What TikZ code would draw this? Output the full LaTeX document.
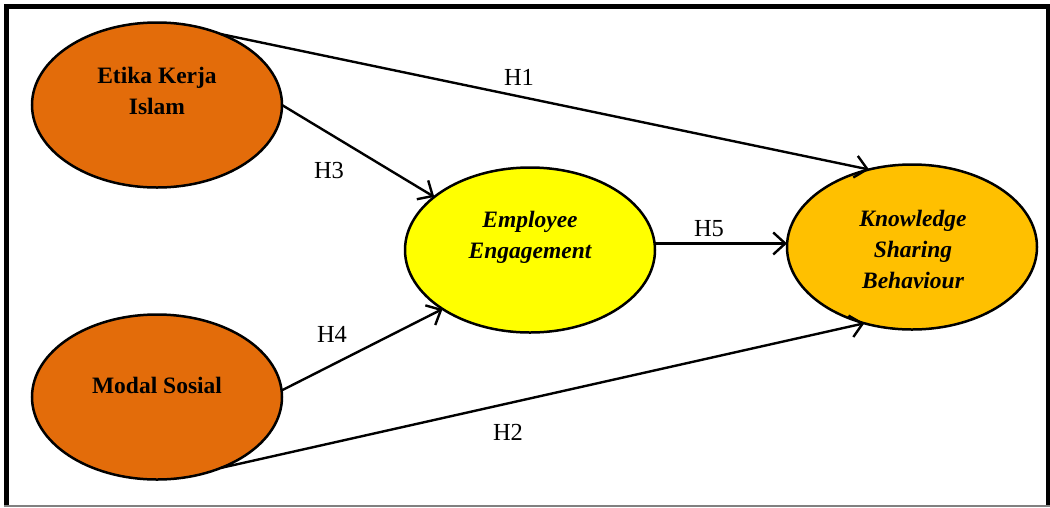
\documentclass[tikz,border=0pt]{standalone}
\usepackage{fontspec}
\setmainfont{Liberation Serif}
\usetikzlibrary{arrows.meta,shapes.geometric}
\definecolor{ekorange}{HTML}{E36C0A}
\definecolor{eeyellow}{HTML}{FFFF00}
\definecolor{ksbgold}{HTML}{FFC000}
\definecolor{framegray}{HTML}{808080}
\tikzset{
  construct/.style={ellipse, draw=black, line width=2.5pt, minimum width=250pt, minimum height=165pt, inner sep=0pt, outer sep=0pt},
  nodetext/.style={align=center, font=\fontsize{23.5}{31}\selectfont\bfseries, inner sep=0pt},
  hlabel/.style={font=\fontsize{24.5}{28}\selectfont, inner sep=0pt},
  conn/.style={line width=2.4pt, -{Straight Barb[length=12pt,width=22pt]}},
}
\begin{document}
\begin{tikzpicture}[x=1pt,y=-1pt]
\useasboundingbox (0,0) rectangle (1050,507);
% frame
\draw[line width=5pt, black] (6.5,506) -- (6.5,6.5) -- (1048.5,6.5) -- (1048.5,506);
\draw[line width=1.5pt, framegray] (4,506) -- (1050,506);
% ellipses
\node[construct, fill=ekorange] (EKI) at (157,105) {};
\node[construct, fill=ekorange] (MS) at (157,397) {};
\node[construct, fill=eeyellow] (EE) at (530,250) {};
\node[construct, fill=ksbgold] (KSB) at (912,247) {};
% texts
\node[nodetext] (tEKI) at (157,91) {Etika Kerja\\Islam};
\node[nodetext] (tMS) at (157,385) {Modal Sosial};
\node[nodetext] (tEE) at (530,237) {\itshape Employee\\\itshape Engagement};
\node[nodetext] (tKSB) at (913,249) {\itshape Knowledge\\\itshape Sharing\\\itshape Behaviour};
% connectors
\draw[conn] (EKI.48) -- (KSB.119);
\draw[conn] (EKI.0) -- (EE.151);
\draw[conn] (MS.3) -- (EE.-146);
\draw[conn] (MS.-48) -- (KSB.-122);
\draw[conn] (EE.3) -- (EE.3 -| KSB.west);
% labels
\node[hlabel] (h1) at (519,77) {H1};
\node[hlabel] (h3) at (329,171) {H3};
\node[hlabel] (h5) at (709,229) {H5};
\node[hlabel] (h4) at (332,334) {H4};
\node[hlabel] (h2) at (508,432) {H2};
\end{tikzpicture}
\end{document}
